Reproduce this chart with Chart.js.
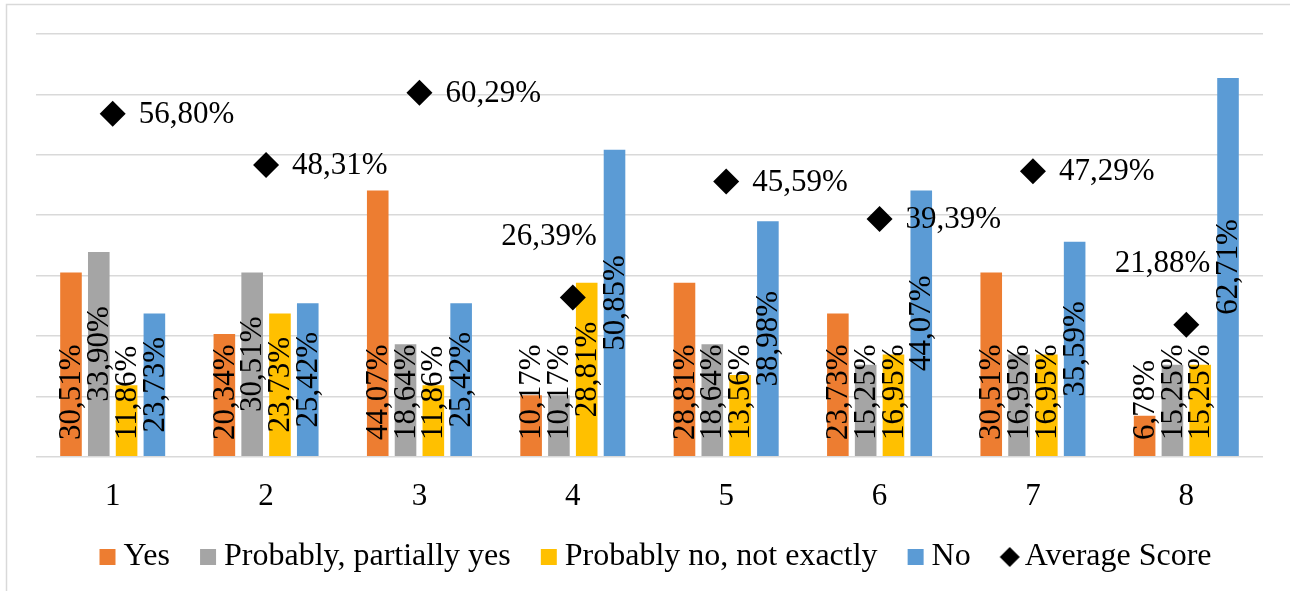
<!DOCTYPE html>
<html>
<head>
<meta charset="utf-8">
<script src="https://cdn.jsdelivr.net/npm/chart.js@4.4.0/dist/chart.umd.min.js"></script>
<style>
  html, body { margin: 0; padding: 0; background: #fff; }
</style>
</head>
<body>
<canvas id="surveyChart" width="1290" height="591"></canvas>
<script>
// Survey answers by question (percent)
const questions = ['1', '2', '3', '4', '5', '6', '7', '8'];
const yesValues = [30.51, 20.34, 44.07, 10.17, 28.81, 23.73, 30.51, 6.78];
const partlyYesValues = [33.90, 30.51, 18.64, 10.17, 18.64, 15.25, 16.95, 15.25];
const partlyNoValues = [11.86, 23.73, 11.86, 28.81, 13.56, 16.95, 16.95, 15.25];
const noValues = [23.73, 25.42, 25.42, 50.85, 38.98, 44.07, 35.59, 62.71];
const averageScores = [56.80, 48.31, 60.29, 26.39, 45.59, 39.39, 47.29, 21.88];
// where the average label sits next to its diamond
const avgLabelSide = ['right', 'right', 'right', 'above', 'right', 'right', 'right', 'above'];
// bar label placement per series (Excel style: inside base / centered)
const barLabelPos = ['base', 'center', 'center', 'center'];

const SERIF = '"Liberation Serif", "Times New Roman", serif';

function pct(v) {
    return v.toFixed(2).replace('.', ',') + '%';
}

// legend markers drawn into wide canvases so they sit close to their text
function makeMarker(color, shape) {
    const c = document.createElement('canvas');
    c.width = 80;
    c.height = 24;
    const g = c.getContext('2d');
    g.fillStyle = color;
    if (shape === 'diamond') {
        g.beginPath();
        g.moveTo(54, 2);
        g.lineTo(64, 12);
        g.lineTo(54, 22);
        g.lineTo(44, 12);
        g.closePath();
        g.fill();
    } else {
        g.fillRect(45, 4, 16, 16);
    }
    return c;
}

const legendMarkers = [
    makeMarker('#ED7D31'),
    makeMarker('#A5A5A5'),
    makeMarker('#FFC000'),
    makeMarker('#5B9BD5'),
    makeMarker('#000000', 'diamond')
];

const framePlugin = {
    id: 'frame',
    beforeDraw(chart) {
        const ctx = chart.ctx;
        ctx.save();
        ctx.fillStyle = '#fff';
        ctx.fillRect(0, 0, chart.width, chart.height);
        ctx.strokeStyle = '#d9d9d9';
        ctx.lineWidth = 1.5;
        ctx.beginPath();
        ctx.moveTo(6.5, chart.height);
        ctx.lineTo(6.5, 4.5);
        ctx.lineTo(chart.width, 4.5);
        ctx.stroke();
        ctx.restore();
    }
};

const valueLabelPlugin = {
    id: 'valueLabels',
    afterDatasetsDraw(chart) {
        const ctx = chart.ctx;
        ctx.save();
        ctx.font = '31px ' + SERIF;
        ctx.fillStyle = '#000';
        chart.data.datasets.forEach((ds, di) => {
            const meta = chart.getDatasetMeta(di);
            meta.data.forEach((el, i) => {
                const text = pct(ds.data[i]);
                if (ds.type === 'line') {
                    ctx.textBaseline = 'middle';
                    if (avgLabelSide[i] === 'above') {
                        ctx.textAlign = 'right';
                        ctx.fillText(text, el.x + 24, el.y - 61);
                    } else {
                        ctx.textAlign = 'left';
                        ctx.fillText(text, el.x + 26, el.y + 1);
                    }
                } else {
                    // text runs bottom to top; start is its lower end
                    const len = ctx.measureText(text).width;
                    const lowest = el.base - 16;
                    let start = lowest;
                    if (barLabelPos[di] === 'center') {
                        start = Math.min((el.y + el.base) / 2 + len / 2, lowest);
                    }
                    ctx.save();
                    ctx.translate(el.x, start);
                    ctx.rotate(-Math.PI / 2);
                    ctx.textAlign = 'left';
                    ctx.textBaseline = 'middle';
                    ctx.fillText(text, 0, 1);
                    ctx.restore();
                }
            });
        });
        ctx.restore();
    }
};

function barSet(label, data, color) {
    return {
        label: label,
        data: data,
        backgroundColor: color,
        borderWidth: 0,
        categoryPercentage: 0.725,
        barPercentage: 0.777,
        order: 1
    };
}

new Chart(document.getElementById('surveyChart').getContext('2d'), {
    type: 'bar',
    data: {
        labels: questions,
        datasets: [
            barSet('Yes', yesValues, '#ED7D31'),
            barSet('Probably, partially yes', partlyYesValues, '#A5A5A5'),
            barSet('Probably no, not exactly', partlyNoValues, '#FFC000'),
            barSet('No', noValues, '#5B9BD5'),
            {
                type: 'line',
                label: 'Average Score',
                data: averageScores,
                showLine: false,
                pointStyle: 'rectRot',
                pointRadius: 13,
                pointHoverRadius: 13,
                pointBackgroundColor: '#000',
                pointBorderWidth: 0,
                order: 0
            }
        ]
    },
    options: {
        responsive: false,
        animation: false,
        layout: {
            padding: { left: 30, right: 27, top: 34, bottom: 8 }
        },
        plugins: {
            legend: {
                position: 'bottom',
                labels: {
                    font: { family: SERIF, size: 32 },
                    color: '#000',
                    usePointStyle: true,
                    boxWidth: 26,
                    boxHeight: 16,
                    padding: 12,
                    sort: (a, b) => a.datasetIndex - b.datasetIndex,
                    generateLabels(chart) {
                        const items = Chart.defaults.plugins.legend.labels.generateLabels(chart);
                        items.forEach(it => { it.pointStyle = legendMarkers[it.datasetIndex]; });
                        return items;
                    }
                }
            },
            tooltip: { enabled: false }
        },
        scales: {
            x: {
                grid: { display: false },
                border: { display: false },
                ticks: {
                    font: { family: SERIF, size: 31 },
                    color: '#000',
                    padding: 13.5
                }
            },
            y: {
                min: 0,
                max: 70,
                afterFit(scale) { scale.width = 6; },
                ticks: { display: false, stepSize: 10 },
                grid: { color: '#d9d9d9', lineWidth: 1.5, drawTicks: false },
                border: { display: false }
            }
        }
    },
    plugins: [framePlugin, valueLabelPlugin]
});
</script>
</body>
</html>
